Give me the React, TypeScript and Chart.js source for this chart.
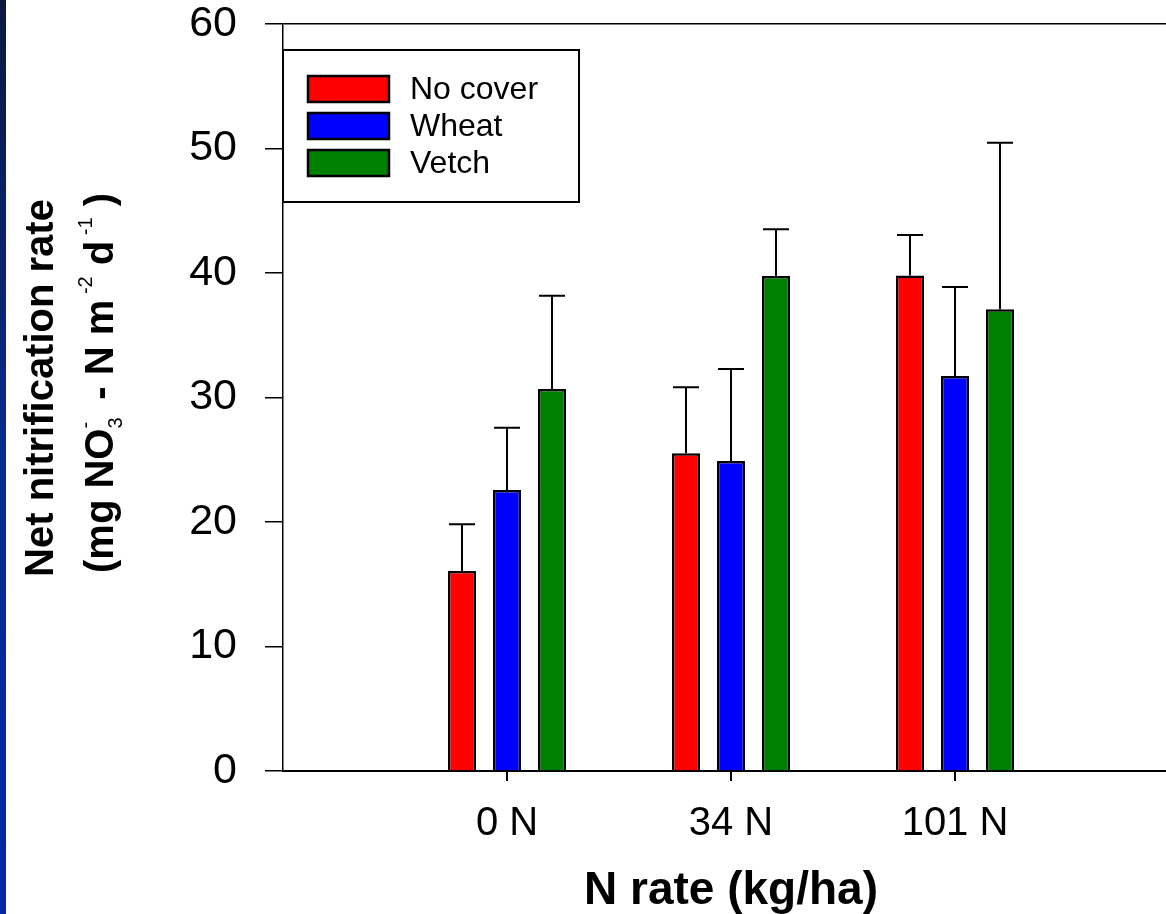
import React, { useEffect, useRef } from "react";
import { Chart, registerables } from "chart.js";

Chart.register(...registerables);

// ---- data ----
const categories = ["", "0 N", "34 N", "101 N", ""];
const seriesNames = ["No cover", "Wheat", "Vetch"];
const seriesColors = ["#FF0000", "#0000FF", "#008000"];
const noCoverValues = [null, 16.06, 25.52, 39.79, null];
const wheatValues = [null, 22.57, 24.9, 31.73, null];
const vetchValues = [null, 30.68, 39.76, 37.08, null];
const noCoverErrors = [null, 3.76, 5.3, 3.26, null];
const wheatErrors = [null, 5.0, 7.39, 7.15, null];
const vetchErrors = [null, 7.5, 3.75, 13.39, null];
const yTicks = [0, 10, 20, 30, 40, 50, 60];
const xTitle = "N rate (kg/ha)";
const yTitleLine1 = "Net nitrification rate";

const seriesValues = [noCoverValues, wheatValues, vetchValues];
const seriesErrors = [noCoverErrors, wheatErrors, vetchErrors];

const FONT = "Arial, 'Liberation Sans', sans-serif";

const errorBarPlugin = {
  id: "errorBars",
  afterDatasetsDraw(chart: any) {
    const ctx = chart.ctx;
    const yScale = chart.scales.y;
    ctx.save();
    ctx.strokeStyle = "#000";
    ctx.lineWidth = 2;
    chart.data.datasets.forEach((ds: any, di: number) => {
      const meta = chart.getDatasetMeta(di);
      const errs = seriesErrors[di];
      meta.data.forEach((bar: any, i: number) => {
        const v = ds.data[i];
        const e = errs[i];
        if (v == null || e == null) return;
        const x = bar.x;
        const y0 = yScale.getPixelForValue(v);
        const y1 = yScale.getPixelForValue(v + e);
        ctx.beginPath();
        ctx.moveTo(x, y0);
        ctx.lineTo(x, y1);
        ctx.moveTo(x - 13, y1);
        ctx.lineTo(x + 13, y1);
        ctx.stroke();
      });
    });
    ctx.restore();
  },
};

const decorPlugin = {
  id: "decor",
  afterDraw(chart: any) {
    const ctx = chart.ctx;
    const area = chart.chartArea;
    ctx.save();
    // legend box
    const bx = area.left;
    const by = 50;
    const bw = 296;
    const bh = 152;
    ctx.fillStyle = "#fff";
    ctx.fillRect(bx, by, bw, bh);
    ctx.strokeStyle = "#000";
    ctx.lineWidth = 2;
    ctx.strokeRect(bx, by, bw, bh);
    seriesNames.forEach((name, i) => {
      const sy = 76 + i * 37;
      ctx.fillStyle = seriesColors[i];
      ctx.fillRect(bx + 25, sy, 81, 26);
      ctx.strokeStyle = "#000";
      ctx.lineWidth = 2.5;
      ctx.strokeRect(bx + 25, sy, 81, 26);
      ctx.fillStyle = "#000";
      ctx.font = `32px ${FONT}`;
      ctx.textAlign = "left";
      ctx.textBaseline = "middle";
      ctx.fillText(name, bx + 127, sy + 14);
    });

    // y title line 1
    ctx.fillStyle = "#000";
    ctx.save();
    ctx.translate(53, 388);
    ctx.rotate(-Math.PI / 2);
    ctx.font = `bold 40px ${FONT}`;
    ctx.textAlign = "center";
    ctx.textBaseline = "alphabetic";
    ctx.fillText(yTitleLine1, 0, 0);
    ctx.restore();

    // y title line 2 with sub/superscripts
    const big = `bold 40px ${FONT}`;
    const small = `20px ${FONT}`;
    type Seg = { t: string; f: string; dy: number; stack?: boolean };
    const segs: Seg[] = [
      { t: "(mg NO", f: big, dy: 0 },
      { t: "3", f: small, dy: 9, stack: true },
      { t: "-", f: small, dy: -21 },
      { t: "  - N m", f: big, dy: 0 },
      { t: " -2", f: small, dy: -21 },
      { t: " d", f: big, dy: 0 },
      { t: " -1", f: small, dy: -21 },
      { t: " )", f: big, dy: 0 },
    ];
    const widths = segs.map((s) => {
      ctx.font = s.f;
      return ctx.measureText(s.t).width;
    });
    let total = 0;
    segs.forEach((s, i) => {
      if (!s.stack) total += widths[i];
    });
    ctx.save();
    ctx.translate(113, 383);
    ctx.rotate(-Math.PI / 2);
    ctx.textAlign = "left";
    ctx.textBaseline = "alphabetic";
    let pos = -total / 2;
    segs.forEach((s, i) => {
      ctx.font = s.f;
      ctx.fillText(s.t, pos, s.dy);
      if (!s.stack) pos += widths[i];
    });
    ctx.restore();
    ctx.restore();
  },
};

export default function App() {
  const canvasRef = useRef<HTMLCanvasElement | null>(null);

  useEffect(() => {
    if (!canvasRef.current) return;
    const chart = new Chart(canvasRef.current, {
      type: "bar",
      data: {
        labels: categories,
        datasets: seriesNames.map((name, i) => ({
          label: name,
          data: seriesValues[i] as any,
          backgroundColor: seriesColors[i],
          borderColor: "#000",
          borderWidth: 2.5,
          borderSkipped: "bottom" as any,
          categoryPercentage: 135 / 224,
          barPercentage: 28 / 45,
        })),
      },
      options: {
        responsive: false,
        animation: false,
        layout: { padding: { left: 0, top: 24, right: 21, bottom: 0 } },
        plugins: {
          legend: { display: false },
          tooltip: { enabled: false },
        },
        scales: {
          x: {
            type: "category",
            offset: false,
            grid: {
              offset: false,
              drawOnChartArea: false,
              tickLength: 10,
              lineWidth: 2,
              color: (c: any) => (c.index === 0 || c.index === 4 ? "rgba(0,0,0,0)" : "#000"),
              tickColor: (c: any) => (c.index === 0 || c.index === 4 ? "rgba(0,0,0,0)" : "#000"),
            },
            border: { display: true, color: "#000", width: 2 },
            ticks: {
              color: "#000",
              font: { family: FONT, size: 40 },
              padding: 19,
              maxRotation: 0,
              autoSkip: false,
            },
            title: {
              display: true,
              text: xTitle,
              color: "#000",
              font: { family: FONT, size: 46, weight: "bold", lineHeight: 1 },
              padding: 0,
            },
            afterFit: (s: any) => {
              s.height = 914 - 771;
              s.paddingLeft = 0;
              s.paddingRight = 0;
            },
          },
          y: {
            min: 0,
            max: 60,
            afterBuildTicks: (s: any) => {
              s.ticks = yTicks.map((v) => ({ value: v }));
            },
            grid: {
              drawOnChartArea: true,
              tickLength: 18,
              lineWidth: 1.5,
              color: (c: any) => (c.tick && c.tick.value === 60 ? "#000" : "rgba(0,0,0,0)"),
              tickColor: "#000",
            },
            border: { display: true, color: "#000", width: 1.5 },
            ticks: {
              color: "#000",
              font: { family: FONT, size: 43 },
              padding: 28,
            },
            afterFit: (s: any) => {
              s.width = 283;
              s.paddingTop = 0;
              s.paddingBottom = 0;
            },
          },
        },
      },
      plugins: [errorBarPlugin, decorPlugin],
    });
    return () => chart.destroy();
  }, []);

  return (
    <div
      style={{
        position: "fixed",
        left: 0,
        top: 0,
        width: 1166,
        height: 914,
        overflow: "hidden",
        background: "#fff",
      }}
    >
      <div
        style={{
          position: "absolute",
          left: 0,
          top: 0,
          width: 6,
          height: 914,
          background: "linear-gradient(to bottom, #0a1840, #0a2a90 50%, #0028a8)",
          zIndex: 2,
        }}
      />
      <canvas ref={canvasRef} width={1200} height={914} style={{ display: "block" }} />
    </div>
  );
}
